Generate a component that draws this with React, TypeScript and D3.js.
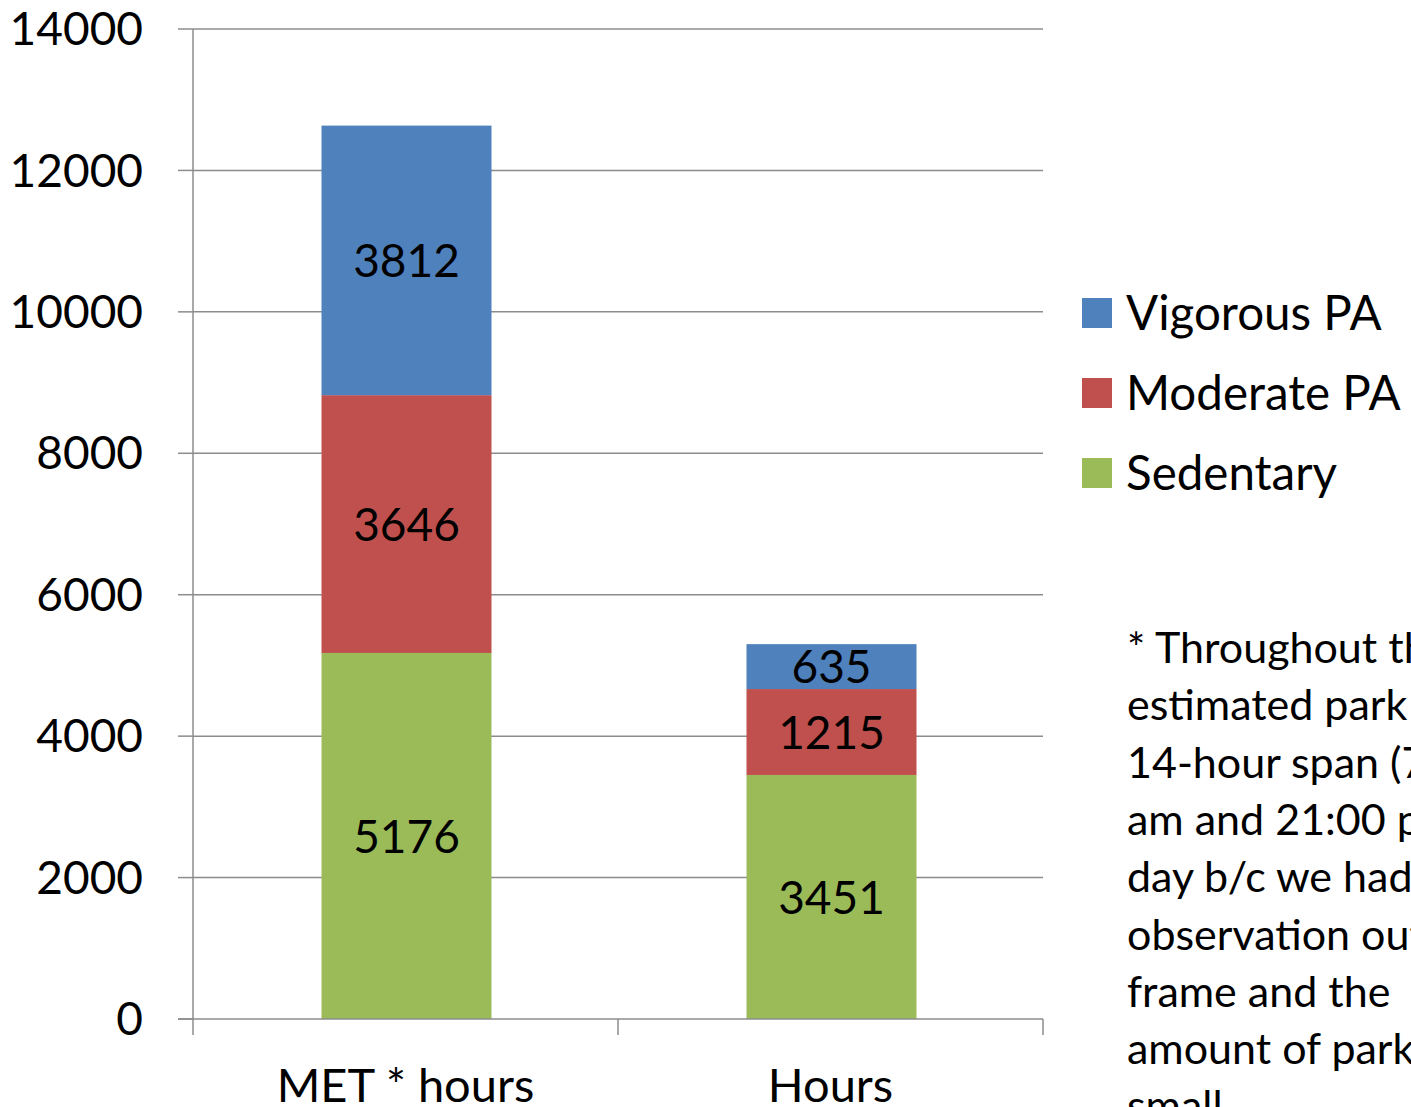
import React from "react";
import * as d3 from "d3";

const categories = ["MET * hours", "Hours"];
const series = ["Sedentary", "Moderate PA", "Vigorous PA"];
const sedentary = [5176, 3451];
const moderate = [3646, 1215];
const vigorous = [3812, 635];
const yTicks = [0, 2000, 4000, 6000, 8000, 10000, 12000, 14000];
const colors = ["#9BBB59", "#C0504D", "#4F81BD"];
const legendOrder = ["Vigorous PA", "Moderate PA", "Sedentary"];
const note = [
  "* Throughout the study we",
  "estimated park use for a",
  "14-hour span (7:00",
  "am and 21:00 pm) per",
  "day b/c we had little",
  "observation outside this time",
  "frame and the",
  "amount of park use was",
  "small.",
];

const FONT = "Lato, 'Open Sans', sans-serif";

export default function App() {
  const W = 1411;
  const H = 1107;
  const left = 193;
  const right = 1043;
  const top = 29;
  const bottom = 1019;

  const x = d3.scaleBand().domain(categories).range([left, right]).paddingInner(0).paddingOuter(0);
  const y = d3.scaleLinear().domain([0, 14000]).range([bottom, top]);
  const barW = x.bandwidth() * 0.4;

  const rows = categories.map((c, i) => ({ cat: c, Sedentary: sedentary[i], "Moderate PA": moderate[i], "Vigorous PA": vigorous[i] }));
  const stacked = d3.stack<any>().keys(series)(rows);

  return (
    <svg width={W} height={H} style={{ position: "absolute", left: 0, top: 0, background: "#fff" }} fontFamily={FONT}>
      {/* gridlines + y ticks */}
      {yTicks.map((t) => (
        <g key={t}>
          {t > 0 && <line x1={left} x2={right} y1={y(t)} y2={y(t)} stroke="#8c8c8c" strokeWidth={1.5} />}
          <line x1={178} x2={left} y1={y(t)} y2={y(t)} stroke="#8c8c8c" strokeWidth={1.5} />
          <text x={143} y={y(t)} dy="0.35em" textAnchor="end" fontSize={46} fill="#000">{t}</text>
        </g>
      ))}
      {/* bars */}
      {stacked.map((s, si) => (
        <g key={s.key} fill={colors[si]}>
          {s.map((d, i) => {
            const cx = x(categories[i])! + x.bandwidth() / 2;
            return (
              <g key={i}>
                <rect x={cx - barW / 2 + 1} y={y(d[1])} width={barW} height={y(d[0]) - y(d[1])} />
                <text x={cx + 1} y={(y(d[0]) + y(d[1])) / 2} dy="0.36em" textAnchor="middle" fontSize={46} fill="#000">
                  {d[1] - d[0]}
                </text>
              </g>
            );
          })}
        </g>
      ))}
      {/* axes */}
      <line x1={left} x2={left} y1={top} y2={bottom} stroke="#8c8c8c" strokeWidth={1.5} />
      <line x1={left - 15} x2={right} y1={bottom} y2={bottom} stroke="#8c8c8c" strokeWidth={1.5} />
      {[left, left + x.bandwidth(), right].map((v, i) => (
        <line key={i} x1={v} x2={v} y1={bottom} y2={bottom + 16} stroke="#8c8c8c" strokeWidth={1.5} />
      ))}
      {categories.map((c) => (
        <text key={c} x={x(c)! + x.bandwidth() / 2} y={1102} textAnchor="middle" fontSize={47} fill="#000">{c}</text>
      ))}
      {/* legend */}
      {legendOrder.map((k, i) => (
        <g key={k} transform={`translate(1082, ${313 + i * 80})`}>
          <rect x={0} y={-15} width={30} height={30} fill={colors[series.indexOf(k)]} />
          <text x={44} y={0} dy="0.35em" fontSize={47.5} fill="#000">{k}</text>
        </g>
      ))}
      {/* note */}
      {note.map((l, i) => (
        <text key={i} x={1127} y={663 + i * 57.3} fontSize={43} fill="#000">{l}</text>
      ))}
    </svg>
  );
}
